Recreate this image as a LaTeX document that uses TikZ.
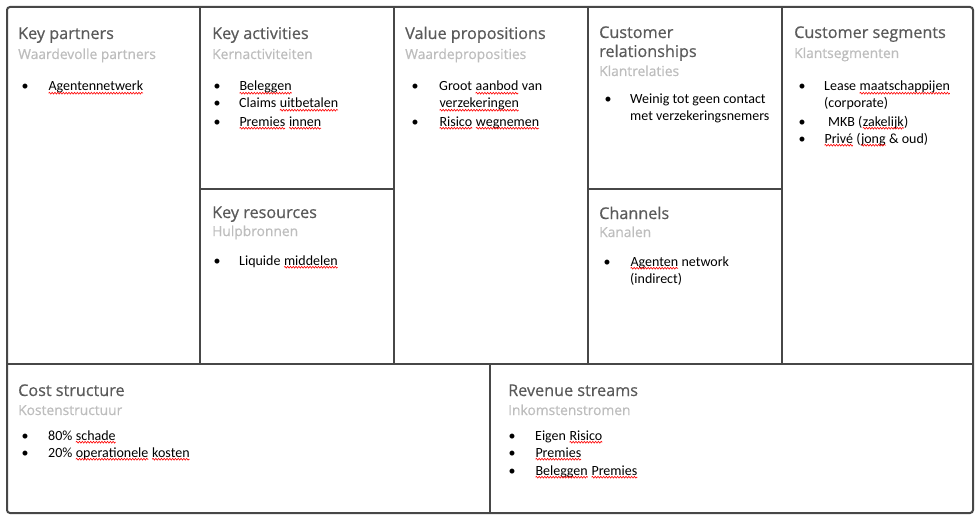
\documentclass[tikz,border=0pt]{standalone}
\usepackage{fontspec}
\setmainfont{Carlito}
\newfontfamily\headfont{Open Sans}[FakeBold=0.6]
\usepackage{xcolor}
\usetikzlibrary{calc,positioning,decorations.pathmorphing}
\definecolor{linegray}{HTML}{474747}
\definecolor{headgray}{HTML}{5A5A5A}
\definecolor{subgray}{HTML}{BDBDBD}
\tikzset{sqline/.style={red,line width=0.6pt,decorate,decoration={snake,amplitude=0.9pt,segment length=2.8pt}}}
% red spell check line under a word
\newcommand{\sq}[1]{\tikz[baseline=(w.base)]{\node[inner sep=0pt,outer sep=0pt,anchor=base west] (w) at (0,0) {#1};
  \draw[sqline] ([yshift=-2.2pt]w.base west)--([yshift=-2.2pt]w.base east);}}

\begin{document}
\begin{tikzpicture}[x=1pt,y=-1pt,
    frame/.style={draw=linegray,line width=2pt},
    head/.style={anchor=base west,inner sep=0pt,font=\headfont\fontsize{16.2}{19}\selectfont,text=headgray},
    sub/.style={anchor=base west,inner sep=0pt,font=\headfont\fontsize{13.8}{16}\selectfont,text=subgray},
    item/.style={anchor=base west,inner sep=0pt,font=\fontsize{14}{17}\selectfont},
    bul/.style={anchor=base,inner sep=0pt,font=\fontsize{14}{17}\selectfont}]
\useasboundingbox (0,0) rectangle (979,516);

% the canvas
\draw[frame,rounded corners=3pt] (7,7) rectangle (973,513);
\foreach \x in {200,394,588,782}
  \draw[frame] (\x,7) -- (\x,364);
\draw[frame] (7,364) -- (973,364);
\draw[frame] (200,189) -- (394,189);
\draw[frame] (588,189) -- (782,189);
\draw[frame] (490,364) -- (490,513);

% headings
\foreach \n/\x/\y/\h in {KP/18/39/Key partners, KA/212/39/Key activities, KR/212/218/Key resources,
    VP/405/39/Value propositions, CR/599/38/Customer, CH/599/219/Channels,
    CS/794/38/Customer segments, Cost/18/396/Cost structure, Rev/508/396/Revenue streams}
  \node[head] (\n Head) at (\x,\y) {\h};
\node[head] (CRHeadTwo) at (599,57) {relationships};

\foreach \n/\x/\y/\h in {KP/18/59/Waardevolle partners, KA/212/59/Kernactiviteiten, KR/212/236/Hulpbronnen,
    VP/405/59/Waardeproposities, CR/599/76/Klantrelaties, CH/599/237/Kanalen,
    CS/794/58/Klantsegmenten, Cost/18/415/Kostenstructuur, Rev/508/415/Inkomstenstromen}
  \node[sub] (\n Sub) at (\x,\y) {\h};

% bullet items
\foreach \n/\bx/\tx/\y/\t in {
    KP1/25/48/91/{\sq{Agentennetwerk}},
    KA1/217/239/91/{\sq{Beleggen}},
    KA2/217/239/108/{Claims \sq{uitbetalen}},
    KA3/217/239/126/{\sq{Premies} \sq{innen}},
    KR1/217/239/265/{Liquide \sq{middelen}},
    VP1/415/439/91/{Groot \sq{aanbod} van},
    VP2/415/439/126/{\sq{Risico} \sq{wegnemen}},
    CR1/608/630/103/{Weinig tot geen contact},
    CH1/607/630/266/{\sq{Agenten} network},
    CS1/802/824/91/{Lease \sq{maatschappijen}},
    CS2/802/828/126/{MKB (\sq{zakelijk})},
    CS3/802/824/143/{\sq{Privé} (\sq{jong} \& oud)},
    Cost1/25/48/440/{80\% \sq{schade}},
    Cost2/25/48/457/{20\% \sq{operationele} \sq{kosten}},
    Rev1/512/535/440/{Eigen \sq{Risico}},
    Rev2/512/535/457/{\sq{Premies}},
    Rev3/512/535/475/{\sq{Beleggen} \sq{Premies}}}
  {\node[bul] (\n Dot) at (\bx,\y) {\textbullet};
   \node[item] (\n) at (\tx,\y) {\t};}

% second lines of items
\node[item] (VP1More) at (439,108) {\sq{verzekeringen}};
\node[item] (CR1More) at (630,121) {met verzekeringsnemers};
\node[item] (CH1More) at (630,283) {(indirect)};
\node[item] (CS1More) at (824,108) {(corporate)};

\end{tikzpicture}
\end{document}
